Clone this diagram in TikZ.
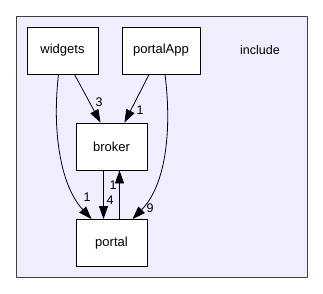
\documentclass[tikz,border=0pt]{standalone}
\usepackage{fontspec}
\setmainfont{Liberation Sans}
\usetikzlibrary{arrows.meta,positioning}
\definecolor{clusterfill}{HTML}{EEEEFF}
\definecolor{clusterline}{HTML}{404040}
\tikzset{
  every picture/.style={line join=round, line cap=round, >={Triangle[length=13pt,width=9pt]}},
  dirbox/.style={draw=black, fill=white, line width=0.9pt, minimum width=71pt, minimum height=47pt, font=\fontsize{13}{15}\selectfont},
  lbl/.style={font=\fontsize{12.5}{15}\selectfont, inner sep=0pt},
  dep/.style={->, line width=0.8pt},
}
\begin{document}
\begin{tikzpicture}[x=1pt,y=-1pt]
\useasboundingbox (0,0) rectangle (323,293);
\draw[clusterline, fill=clusterfill, line width=0.9pt](16,16) rectangle (307,277);
\node[lbl](include) at (260,50){include};
\node[dirbox](widgets) at (62.5,50.5){widgets};
\node[dirbox, minimum width=78pt](portalApp) at (161,50.5){portalApp};
\node[dirbox](broker) at (111.5,146.5){broker};
\node[dirbox](portal) at (111.5,243){portal};
% edges
\draw[dep]([xshift=12pt]widgets.south)--([xshift=-11pt]broker.north)node[lbl] at (99,102){3};
\draw[dep]([xshift=-12pt]portalApp.south)--([xshift=13pt]broker.north)node[lbl] at (140,110){1};
\draw[dep]([xshift=-4pt]widgets.south) .. controls (52,130) and (60,185) .. ([xshift=-20pt]portal.north)node[lbl] at (87,197){1};
\draw[dep]([xshift=4pt]portalApp.south) .. controls (172,130) and (166,185) .. ([xshift=21pt]portal.north)node[lbl] at (150,208){9};
\draw[dep]([xshift=-8pt]broker.south)--([xshift=-8pt]portal.north)node[lbl] at (110,200){4};
\draw[dep]([xshift=8pt]portal.north)--([xshift=8pt]broker.south)node[lbl] at (113,185){1};
\end{tikzpicture}
\end{document}
